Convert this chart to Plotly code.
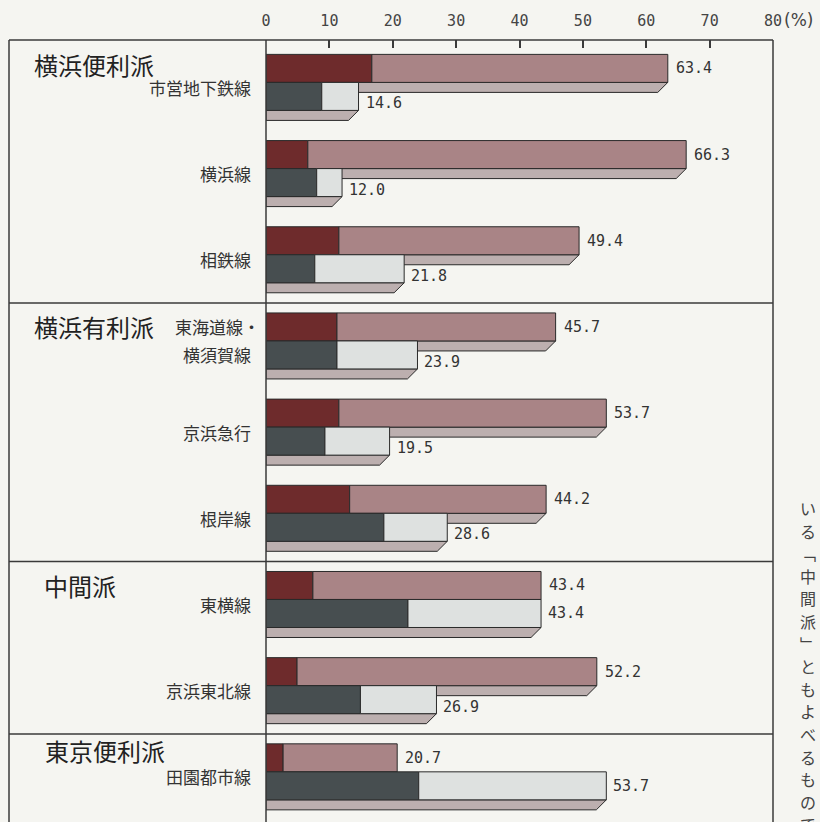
import plotly.graph_objects as go

# ---------------- data ----------------
groups = ["横浜便利派", "横浜有利派", "中間派", "東京便利派"]
lines = ["市営地下鉄線", "横浜線", "相鉄線", "東海道線・\n横須賀線", "京浜急行",
         "根岸線", "東横線", "京浜東北線", "田園都市線"]
line_group = [0, 0, 0, 1, 1, 1, 2, 2, 3]
red_dark = [16.7, 6.6, 11.5, 11.2, 11.5, 13.2, 7.4, 4.9, 2.7]
red_total = [63.4, 66.3, 49.4, 45.7, 53.7, 44.2, 43.4, 52.2, 20.7]
gray_dark = [8.8, 8.0, 7.7, 11.2, 9.3, 18.6, 22.4, 14.9, 24.1]
gray_total = [14.6, 12.0, 21.8, 23.9, 19.5, 28.6, 43.4, 26.9, 53.7]
x_ticks = [0, 10, 20, 30, 40, 50, 60, 70, 80]
x_tick_text = ["0", "10", "20", "30", "40", "50", "60", "70", "80"]
unit_text = "(%)"
side_text = "いる﹁中間派﹂ともよべるもので"

# ---------------- style ----------------
W, H = 820, 822
ML, MR, MT, MB = 266, 47, 40, 0
PW = W - ML - MR
PH = H - MT - MB
C_RED = "#6e2b2c"
C_PINK = "#a98486"
C_DGRAY = "#474e50"
C_LGRAY = "#dee1e0"
C_STRIP = "#bcafaf"
C_LINE = "#2a2a2a"
C_BORDER = "#3a3a3a"
BG = "#f5f5f1"
BAR_H = 0.325
STRIP_H = 0.116
SLANT = 1.58
JP = "Noto Sans CJK JP"
MONO = "DejaVu Sans Mono"
Y_RANGE = [8.582, -0.492]
LEFT_PX = 9
ITEM_LABEL_RIGHT_PX = 253
GROUP_LABEL_X = [32, 32, 42, 43]
GROUP_LABEL_YSHIFT = [4, 0, 0, 7]
SIDE_X_PX = 808
SIDE_TOP_PX = 508
SIDE_STEP_PX = 22.6


def px_to_paper_x(px):
    return (px - ML) / PW


def px_to_paper_y(py):
    return (H - MB - py) / PH


n = len(lines)
pos = list(range(n))
top_y = [p - BAR_H / 2 for p in pos]
bot_y = [p + BAR_H / 2 for p in pos]

fig = go.Figure()
line_style = dict(color=C_LINE, width=1)
fig.add_trace(go.Bar(y=top_y, x=red_dark, base=[0] * n, orientation="h", width=BAR_H,
                     marker=dict(color=C_RED, line=line_style), hoverinfo="skip"))
fig.add_trace(go.Bar(y=top_y, x=[t - d for t, d in zip(red_total, red_dark)], base=red_dark,
                     orientation="h", width=BAR_H,
                     marker=dict(color=C_PINK, line=line_style), hoverinfo="skip"))
fig.add_trace(go.Bar(y=bot_y, x=gray_dark, base=[0] * n, orientation="h", width=BAR_H,
                     marker=dict(color=C_DGRAY, line=line_style), hoverinfo="skip"))
fig.add_trace(go.Bar(y=bot_y, x=[t - d for t, d in zip(gray_total, gray_dark)], base=gray_dark,
                     orientation="h", width=BAR_H,
                     marker=dict(color=C_LGRAY, line=line_style), hoverinfo="skip"))

shapes = []
# 3D under-faces of bars
for p, rt, gt in zip(pos, red_total, gray_total):
    for tot, y0 in ((rt, p), (gt, p + BAR_H)):
        y1 = y0 + STRIP_H
        path = f"M 0,{y0} L {tot},{y0} L {tot - SLANT},{y1} L 0,{y1} Z"
        shapes.append(dict(type="path", path=path, xref="x", yref="y", layer="below",
                           fillcolor=C_STRIP, line=dict(color=C_LINE, width=1)))

# frame
xl = px_to_paper_x(LEFT_PX)
border = dict(color=C_BORDER, width=1.5)
shapes += [
    dict(type="line", xref="paper", yref="paper", x0=xl, x1=1, y0=1, y1=1, line=border),
    dict(type="line", xref="paper", yref="paper", x0=xl, x1=xl, y0=0, y1=1, line=border),
    dict(type="line", xref="paper", yref="paper", x0=1, x1=1, y0=0, y1=1, line=border),
    dict(type="line", xref="paper", yref="paper", x0=0, x1=0, y0=0, y1=1, line=border),
]
# group separators
for i in range(n - 1):
    if line_group[i] != line_group[i + 1]:
        yv = pos[i] + 0.56
        yp = (Y_RANGE[0] - yv) / (Y_RANGE[0] - Y_RANGE[1])
        shapes.append(dict(type="line", xref="paper", yref="paper", x0=xl, x1=1, y0=yp, y1=yp,
                           line=border))

ann = []
# value labels
for p, rt, gt in zip(pos, red_total, gray_total):
    ann.append(dict(x=rt, y=p - BAR_H / 2, xref="x", yref="y", text=f"{rt:.1f}",
                    xanchor="left", yanchor="middle", xshift=6, showarrow=False,
                    font=dict(family=MONO, size=15, color="#333")))
    ann.append(dict(x=gt, y=p + BAR_H / 2, xref="x", yref="y", text=f"{gt:.1f}",
                    xanchor="left", yanchor="middle", xshift=5,
                    yshift=-7 if gt < rt else 0, showarrow=False,
                    font=dict(family=MONO, size=15, color="#333")))

# item labels
xr = px_to_paper_x(ITEM_LABEL_RIGHT_PX)
for p, name in zip(pos, lines):
    parts = name.split("\n")
    if len(parts) == 1:
        ann.append(dict(x=xr, y=p, xref="paper", yref="y", text=name, xanchor="right",
                        yanchor="middle", yshift=-5, showarrow=False,
                        font=dict(family=JP, size=17, color="#333")))
    else:
        for k, part in enumerate(parts):
            yy = p - BAR_H / 2 if k == 0 else p + BAR_H / 2
            ann.append(dict(x=xr, y=yy, xref="paper", yref="y", text=part, xanchor="right",
                            yanchor="middle", xshift=9 if part.endswith("・") else 0,
                            showarrow=False, font=dict(family=JP, size=17, color="#333")))

# group labels
for g, name in enumerate(groups):
    first = line_group.index(g)
    ann.append(dict(x=px_to_paper_x(GROUP_LABEL_X[g]), y=pos[first] - BAR_H / 2,
                    xref="paper", yref="y", text=name, xanchor="left", yanchor="middle",
                    yshift=GROUP_LABEL_YSHIFT[g], showarrow=False,
                    font=dict(family=JP, size=24, color="#222")))

# unit
ann.append(dict(x=80, y=1, xref="x", yref="paper", text=unit_text, xanchor="left",
                yanchor="middle", xshift=9, yshift=20, showarrow=False,
                font=dict(family="DejaVu Sans", size=17, color="#444")))

# side text (vertical, one glyph per line)
for k, ch in enumerate(side_text):
    ann.append(dict(x=px_to_paper_x(SIDE_X_PX), y=px_to_paper_y(SIDE_TOP_PX + k * SIDE_STEP_PX),
                    xref="paper", yref="paper", text=ch, xanchor="center", yanchor="middle",
                    showarrow=False, borderpad=0,
                    font=dict(family=JP, size=16, color="#444")))

fig.update_layout(
    width=W, height=H, margin=dict(l=ML, r=MR, t=MT, b=MB),
    paper_bgcolor=BG, plot_bgcolor=BG, barmode="overlay", showlegend=False,
    shapes=shapes, annotations=ann,
    xaxis=dict(range=[0, 80], side="top", tickvals=x_ticks, ticktext=x_tick_text,
               ticks="inside", ticklen=8, tickwidth=1.5, tickcolor=C_BORDER,
               showgrid=False, zeroline=False, showline=False, ticklabelstandoff=10,
               tickfont=dict(family=MONO, size=15, color="#444")),
    yaxis=dict(range=Y_RANGE, showticklabels=False, showgrid=False, zeroline=False,
               showline=False, ticks=""),
)

fig.write_html("out.html")
